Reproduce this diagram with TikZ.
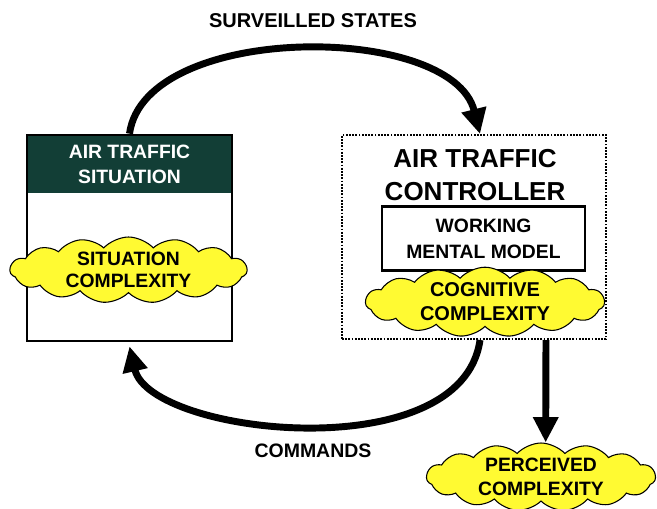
\documentclass[tikz,border=0pt]{standalone}
\usepackage{fontspec}
\setmainfont{Liberation Sans}
\usetikzlibrary{shapes.symbols,arrows.meta}
\definecolor{headgreen}{RGB}{18,62,54}
\definecolor{cloudyellow}{RGB}{255,250,50}
\tikzset{
  lbl/.style={font=\bfseries},
  puff/.style={cloud, cloud puffs=15, cloud puff arc=95, cloud ignores aspect,
    draw=black, line width=0.8pt, fill=cloudyellow, align=center, inner sep=0pt},
  flow/.style={line width=5.2pt, -{Triangle[length=19pt,width=18pt]}},
  frame/.style={draw=black, line width=2pt, inner sep=0pt},
}
\begin{document}
\begin{tikzpicture}[x=0.75pt,y=-0.75pt]
\useasboundingbox[fill=white] (0,0) rectangle (657,508);
% left: air traffic situation
\node[frame, minimum width=205*0.75pt, minimum height=206*0.75pt] (sit) at (129.5,238) {};
\node[fill=headgreen, minimum width=203*0.75pt, minimum height=57*0.75pt, inner sep=0pt,
  text=white, align=center, lbl, font=\fontsize{14.5}{19}\selectfont\bfseries] (head) at (129.5,164.5) {AIR TRAFFIC\\SITUATION};
\node[puff, minimum width=237*0.75pt, minimum height=66*0.75pt,
  font=\fontsize{14.5}{16.5}\selectfont\bfseries] (sitcx) at (128.5,270) {SITUATION\\COMPLEXITY};
% right: air traffic controller
\node[draw=black, line width=1.5pt, dash pattern=on 1.3pt off 1.1pt, minimum width=264*0.75pt, minimum height=204*0.75pt, inner sep=0pt] (ctrl) at (474,237) {};
\node[align=center, font=\fontsize{19.5}{25}\selectfont\bfseries] (atc) at (475,175) {AIR TRAFFIC\\CONTROLLER};
\node[frame, line width=1.6pt, minimum width=203*0.75pt, minimum height=64*0.75pt, align=center,
  font=\fontsize{14.5}{19.5}\selectfont\bfseries] (wmm) at (483.5,238.5) {WORKING\\MENTAL MODEL};
\node[puff, minimum width=239*0.75pt, minimum height=68*0.75pt,
  font=\fontsize{15}{18}\selectfont\bfseries] (cogcx) at (485,302) {COGNITIVE\\COMPLEXITY};
% perceived complexity
\node[puff, minimum width=229*0.75pt, minimum height=68*0.75pt,
  font=\fontsize{14.5}{17.5}\selectfont\bfseries] (perc) at (541,477) {PERCEIVED\\COMPLEXITY};
% labels
\node[font=\fontsize{15}{18}\selectfont\bfseries] (surv) at (313,21) {SURVEILLED STATES};
\node[font=\fontsize{14.6}{18}\selectfont\bfseries] (cmd) at (313,451) {COMMANDS};
% connectors
\draw[flow] (sit.north) .. controls (145,22) and (452,22) .. ([xshift=4.5pt]ctrl.north);
\draw[flow] ([xshift=4.5pt]ctrl.south) .. controls (462,470) and (150,435) .. ([yshift=-3pt]sit.south);
\draw[flow] ([xshift=54pt]ctrl.south) -- ([xshift=3.5pt]perc.north);
\end{tikzpicture}
\end{document}
